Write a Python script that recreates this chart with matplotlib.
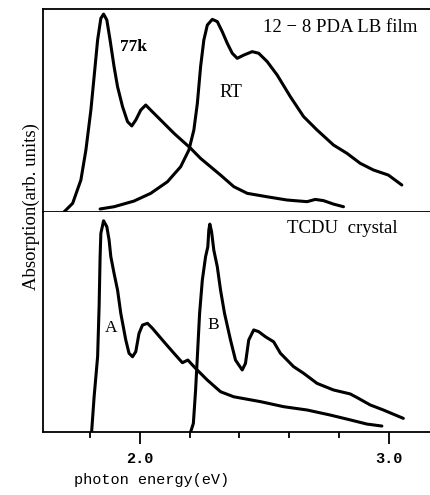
import matplotlib
matplotlib.use("Agg")
import matplotlib.pyplot as plt
from matplotlib.ticker import FixedLocator

# upper panel: 12-8 PDA LB film
e_77k = [1.696, 1.731, 1.764, 1.784, 1.804, 1.817, 1.831, 1.844, 1.855, 1.868, 1.881,
         1.897, 1.911, 1.931, 1.951, 1.968, 1.984, 2.004, 2.024, 2.044, 2.084, 2.137,
         2.204, 2.244, 2.284, 2.324, 2.377, 2.431, 2.511, 2.591, 2.671, 2.704, 2.737,
         2.777, 2.817]
a_77k = [0.0, 0.043, 0.158, 0.305, 0.502, 0.667, 0.847, 0.954, 0.975, 0.946, 0.847,
         0.716, 0.617, 0.519, 0.445, 0.424, 0.453, 0.502, 0.527, 0.502, 0.453, 0.388,
         0.314, 0.264, 0.223, 0.182, 0.125, 0.092, 0.075, 0.059, 0.051, 0.062, 0.056,
         0.039, 0.026]

e_rt = [1.841, 1.897, 1.977, 2.044, 2.111, 2.164, 2.197, 2.217, 2.231, 2.244, 2.257,
        2.271, 2.291, 2.311, 2.331, 2.351, 2.371, 2.391, 2.417, 2.451, 2.477, 2.511,
        2.551, 2.604, 2.657, 2.711, 2.777, 2.831, 2.884, 2.937, 2.997, 3.051]
a_rt = [0.015, 0.026, 0.054, 0.092, 0.149, 0.223, 0.305, 0.404, 0.535, 0.716, 0.847,
        0.921, 0.949, 0.938, 0.888, 0.831, 0.782, 0.757, 0.773, 0.790, 0.782, 0.741,
        0.675, 0.568, 0.470, 0.404, 0.330, 0.289, 0.240, 0.207, 0.182, 0.133]

# lower panel: TCDU crystal
e_a = [1.807, 1.817, 1.831, 1.837, 1.841, 1.844, 1.855, 1.868, 1.877, 1.884, 1.897,
       1.911, 1.924, 1.944, 1.957, 1.971, 1.984, 1.997, 2.011, 2.031, 2.051, 2.097,
       2.137, 2.171, 2.193, 2.224, 2.271, 2.324, 2.377, 2.484, 2.577, 2.671, 2.764,
       2.844, 2.911, 2.971]
a_a = [0.001, 0.160, 0.342, 0.570, 0.797, 0.903, 0.960, 0.933, 0.873, 0.797, 0.721,
       0.645, 0.539, 0.418, 0.358, 0.342, 0.365, 0.448, 0.486, 0.494, 0.471, 0.410,
       0.358, 0.315, 0.327, 0.289, 0.236, 0.183, 0.160, 0.138, 0.115, 0.100, 0.077,
       0.055, 0.036, 0.027]

e_b = [2.204, 2.215, 2.224, 2.231, 2.240, 2.251, 2.264, 2.273, 2.277, 2.281, 2.288,
       2.297, 2.311, 2.324, 2.340, 2.364, 2.384, 2.397, 2.411, 2.424, 2.437, 2.457,
       2.477, 2.504, 2.537, 2.564, 2.617, 2.657, 2.711, 2.777, 2.844, 2.877, 2.924,
       2.977, 3.057]
a_b = [0.0, 0.039, 0.191, 0.342, 0.539, 0.691, 0.797, 0.842, 0.918, 0.945, 0.911,
       0.827, 0.751, 0.645, 0.539, 0.418, 0.327, 0.305, 0.282, 0.312, 0.418, 0.464,
       0.456, 0.433, 0.410, 0.358, 0.297, 0.267, 0.221, 0.191, 0.173, 0.153, 0.123,
       0.100, 0.062]

major_ticks = [2.0, 3.0]
tick_labels = ["2.0", "3.0"]
minor_ticks = [1.8, 2.2, 2.4, 2.6, 2.8]

serif = "Liberation Serif"
mono = "Liberation Mono"
lw = 2.2

fig = plt.figure(figsize=(4.30, 4.95), dpi=100)
ax1 = fig.add_axes([0.1, 0.5717, 0.9, 0.4101])
ax2 = fig.add_axes([0.1, 0.1273, 0.9, 0.4444])

for ax in (ax1, ax2):
    ax.set_xlim(1.612, 3.164)
    ax.spines["right"].set_visible(False)
    for s in ax.spines.values():
        s.set_linewidth(1.3)
    ax.set_yticks([])

ax1.set_ylim(0, 1)
ax1.plot(e_77k, a_77k, color="black", lw=lw, solid_capstyle="round")
ax1.plot(e_rt, a_rt, color="black", lw=lw, solid_capstyle="round")
ax1.set_xticks([])
ax1.text(1.976, 0.813, "77k", family=serif, fontsize=12.5, fontweight="bold", ha="center", va="center")
ax1.text(2.364, 0.591, "RT", family=serif, fontsize=13.5, ha="center", va="center")
ax1.text(2.496, 0.911, "12 − 8 PDA LB film", family=serif, fontsize=13.5, ha="left", va="center")

ax2.set_ylim(0, 1)
ax2.spines["top"].set_visible(False)
ax2.plot(e_a, a_a, color="black", lw=lw, solid_capstyle="round")
ax2.plot(e_b, a_b, color="black", lw=lw, solid_capstyle="round")
ax2.text(1.884, 0.473, "A", family=serif, fontsize=12.5, ha="center", va="center")
ax2.text(2.296, 0.486, "B", family=serif, fontsize=12.5, ha="center", va="center")
ax2.text(2.592, 0.927, "TCDU  crystal", family=serif, fontsize=13.5, ha="left", va="center")

ax2.xaxis.set_major_locator(FixedLocator(major_ticks))
ax2.set_xticklabels(tick_labels, family=mono, fontsize=11, fontweight="bold")
ax2.xaxis.set_minor_locator(FixedLocator(minor_ticks))
ax2.tick_params(axis="x", which="major", direction="out", length=8.5, width=1.3, pad=6)
ax2.tick_params(axis="x", which="minor", direction="out", length=4, width=1.3)

fig.text(0.353, 0.03, "photon energy(eV)", family=mono, fontsize=11, ha="center", va="center")
fig.text(0.072, 0.582, "Absorption(arb. units)", family=serif, fontsize=13.5,
         rotation=90, ha="center", va="center")

fig.savefig("out.png", dpi=100)
